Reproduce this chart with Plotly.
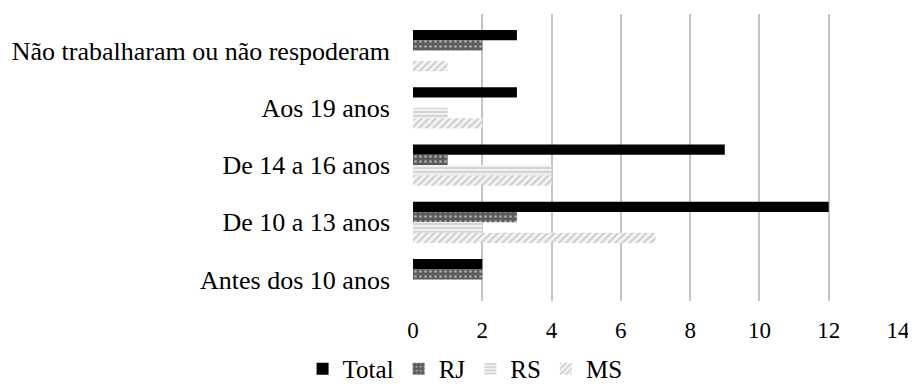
import plotly.graph_objects as go

categories = ["Não trabalharam ou não respoderam", "Aos 19 anos", "De 14 a 16 anos",
              "De 10 a 13 anos", "Antes dos 10 anos"]
total = [3, 3, 9, 12, 2]
rj = [2, 0, 1, 3, 2]
rs = [0, 1, 4, 2, 0]
ms = [1, 2, 4, 7, 0]
x_ticks = [0, 2, 4, 6, 8, 10, 12, 14]

FONT = "Liberation Serif"

fig = go.Figure()
fig.add_trace(go.Bar(name="Total", y=categories, x=total, orientation="h",
                     marker=dict(color="#000000", line=dict(width=0))))
fig.add_trace(go.Bar(name="RJ", y=categories, x=rj, orientation="h",
                     marker=dict(color="#5c5c5c", line=dict(width=0),
                                 pattern=dict(shape=".", fgcolor="#b0b0b0", bgcolor="#5c5c5c",
                                              size=5, solidity=0.2, fillmode="replace"))))
fig.add_trace(go.Bar(name="RS", y=categories, x=rs, orientation="h",
                     marker=dict(color="#e6e6e6", line=dict(width=0),
                                 pattern=dict(shape="-", fgcolor="#d2d2d2", bgcolor="#f0f0f0",
                                              size=4, solidity=0.45, fillmode="replace"))))
fig.add_trace(go.Bar(name="MS", y=categories, x=ms, orientation="h",
                     marker=dict(color="#f2f2f2", line=dict(width=0),
                                 pattern=dict(shape="/", fgcolor="#cccccc", bgcolor="#f4f4f4",
                                              size=5, solidity=0.4, fillmode="replace"))))

fig.update_layout(
    width=916, height=389,
    margin=dict(l=405, r=26, t=6, b=96, autoexpand=False),
    paper_bgcolor="white", plot_bgcolor="white",
    barmode="group", bargap=0.28, bargroupgap=0,
    font=dict(family=FONT, size=26, color="#000000"),
    showlegend=True,
    legend=dict(orientation="h", xref="container", yref="container",
                x=0.499, xanchor="center", y=0.072, yanchor="middle",
                font=dict(family=FONT, size=25, color="#000000"),
                itemwidth=30, tracegroupgap=0, traceorder="normal"),
    xaxis=dict(range=[0, 14], tickvals=x_ticks, showgrid=True, gridcolor="#c4c4c4",
               gridwidth=1.5, zeroline=False, showline=False, ticks="", automargin=False,
               ticklabelstandoff=13, tickfont=dict(family=FONT, size=23)),
    yaxis=dict(type="category", categoryorder="array", categoryarray=categories,
               range=[4.374, -0.639], showgrid=False, zeroline=False, showline=False,
               ticks="", automargin=False, ticklabelstandoff=22,
               tickfont=dict(family=FONT, size=26)),
)

fig.write_html("out.html")
